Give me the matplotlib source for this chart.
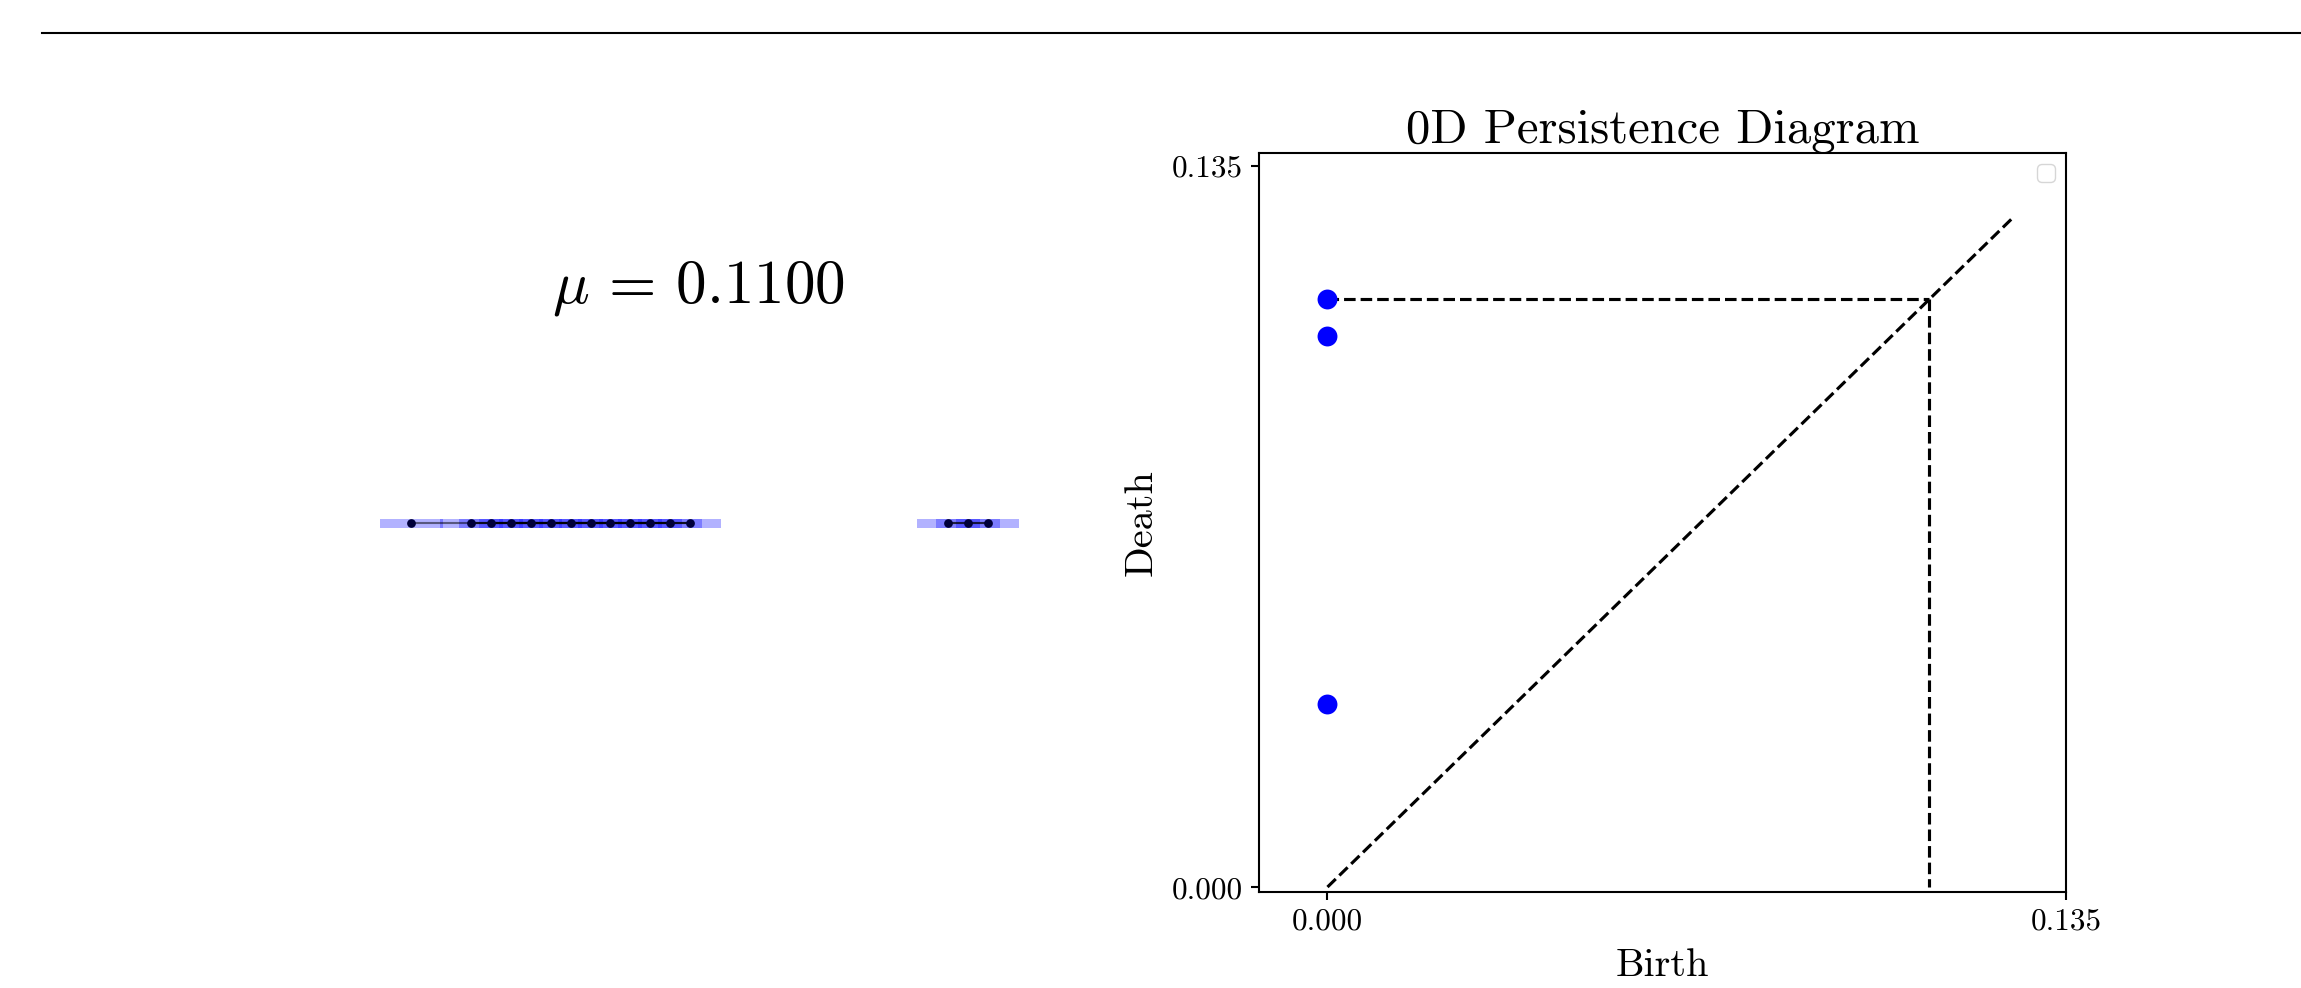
import matplotlib
matplotlib.use("Agg")
import matplotlib.pyplot as plt
from matplotlib.lines import Line2D
import numpy as np

plt.rcParams['font.family'] = 'cmr10'
plt.rcParams['mathtext.fontset'] = 'cm'
plt.rcParams['axes.formatter.use_mathtext'] = True
plt.rcParams['axes.unicode_minus'] = False

# ---- data ----
mu = 0.11
points_x = [0.000, 0.104, 0.138, 0.173, 0.207, 0.242, 0.277, 0.311,
            0.345, 0.380, 0.414, 0.449, 0.483, 0.932, 0.966, 1.000]
diag_birth = [0.0, 0.0, 0.0]
diag_death = [0.110, 0.1032, 0.0343]
diag_max = 0.125
tick_vals = [0.0, 0.135]
tick_labels = ["0.000", "0.135"]

W, H = 2301, 988
fig = plt.figure(figsize=(W / 100, H / 100), dpi=100)

# top rule across the figure
fig.add_artist(Line2D([42 / W, 1.0], [1 - 33 / H, 1 - 33 / H],
                      transform=fig.transFigure, color='black', lw=1.5))

# ---- left panel: point cloud thickened by mu/2 ----
scale = 0.001735          # data units per pixel
x0_px = 411.3
L_px, R_px = 60, 1180
yc_px, hh_px = 523.5, 200
axL = fig.add_axes([L_px / W, 1 - (yc_px + hh_px) / H,
                    (R_px - L_px) / W, 2 * hh_px / H])
axL.set_xlim((L_px - x0_px) * scale, (R_px - x0_px) * scale)
axL.set_ylim(-1, 1)
axL.axis('off')

r = mu / 2
bar_h = 9 / hh_px
xs = np.array(points_x)
for x in xs:
    axL.barh(0, 2 * r, left=x - r, height=bar_h, color='blue', alpha=0.3,
             linewidth=0)
for i in range(len(xs)):
    for j in range(i + 1, len(xs)):
        if xs[j] - xs[i] <= mu:
            axL.plot([xs[i], xs[j]], [0, 0], color='black', alpha=0.5, lw=1.5)
axL.plot(xs, np.zeros_like(xs), 'o', color='#00003a', markersize=6.3,
         markeredgewidth=0)

fig.text(698 / W, 1 - 302 / H, r'$\mu \,=\, 0.1100$', ha='center',
         va='baseline', fontsize=44)

# ---- right panel: persistence diagram ----
axR = fig.add_axes([1259 / W, 1 - 892 / H, 807 / W, 739 / H])
axR.scatter(diag_birth, diag_death, s=205, color='blue', zorder=3,
            linewidths=0)
axR.plot([0, diag_max], [0, diag_max], 'k--', lw=2.25)
axR.plot([0, mu], [mu, mu], 'k--', lw=2.25)
axR.plot([mu, mu], [mu, 0], 'k--', lw=2.25)
axR.set_xlim(-0.01252, 0.135)
axR.set_ylim(-0.00093, 0.1374)
axR.set_xticks(tick_vals)
axR.set_xticklabels(tick_labels)
axR.set_yticks(tick_vals)
axR.set_yticklabels(tick_labels)
axR.tick_params(labelsize=22.5, length=6, width=1.5, pad=5.5)
for sp in axR.spines.values():
    sp.set_linewidth(1.5)
axR.set_xlabel('Birth', fontsize=29, labelpad=9)
axR.set_ylabel('Death', fontsize=29, labelpad=9)
axR.set_title('0D Persistence Diagram', fontsize=35)
axR.legend(handles=[], loc='upper right', fontsize=16)

fig.savefig('out.png', dpi=100)
